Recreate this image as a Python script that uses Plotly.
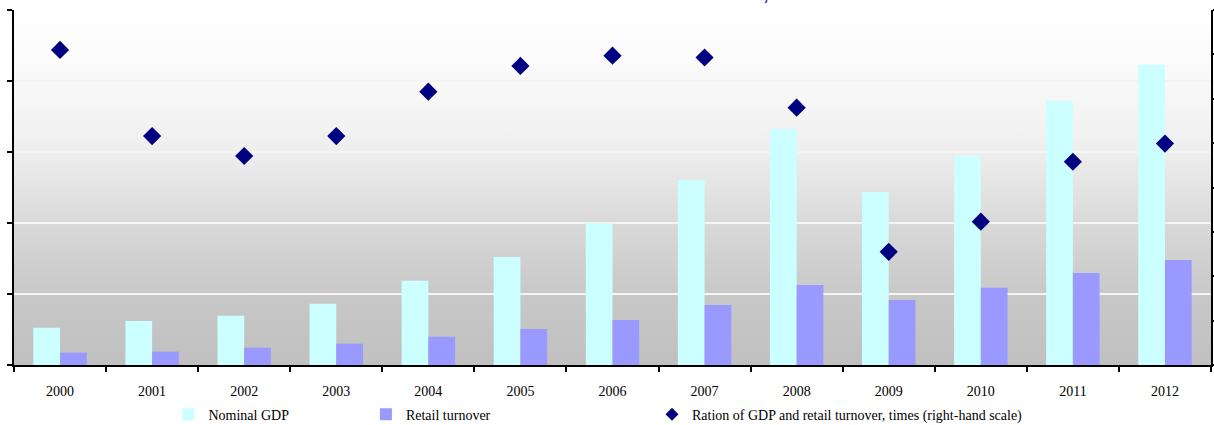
import base64
import plotly.graph_objects as go

years = ["2000", "2001", "2002", "2003", "2004", "2005", "2006",
         "2007", "2008", "2009", "2010", "2011", "2012"]
nominal_gdp = [263, 310, 347, 432, 594, 761, 998, 1303, 1662, 1218, 1472, 1861, 2115]
retail_turnover = [87, 94, 122, 150, 199, 254, 317, 423, 563, 458, 544, 648, 739]
ratio = [3.110, 2.916, 2.871, 2.916, 3.016, 3.074, 3.097, 3.093, 2.980,
         2.655, 2.723, 2.858, 2.899]

serif = "Liberation Serif, Times New Roman, serif"
ratio_name = "Ration of GDP and retail turnover, times (right-hand scale)"

fig = go.Figure()
fig.add_trace(go.Bar(x=years, y=nominal_gdp, name="Nominal GDP",
                     marker=dict(color="#ccffff", line=dict(width=0)),
                     legend="legend"))
fig.add_trace(go.Bar(x=years, y=retail_turnover, name="Retail turnover",
                     marker=dict(color="#9999ff", line=dict(width=0)),
                     legend="legend2"))
fig.add_trace(go.Scatter(x=years, y=ratio, yaxis="y2", mode="markers",
                         name=ratio_name, showlegend=False,
                         marker=dict(symbol="diamond", size=14, color="#000080")))
# legend-only entry with a smaller diamond icon
fig.add_trace(go.Scatter(x=[None], y=[None], yaxis="y2", mode="markers",
                         name=ratio_name, legend="legend3",
                         marker=dict(symbol="diamond", size=10, color="#000080")))

svg = ('<svg xmlns="http://www.w3.org/2000/svg" width="100" height="100" '
       'viewBox="0 0 100 100" preserveAspectRatio="none">'
       '<defs><linearGradient id="g" x1="0" y1="0" x2="0" y2="1">'
       '<stop offset="0" stop-color="#ffffff"/>'
       '<stop offset="0.2" stop-color="#f9f9f9"/>'
       '<stop offset="0.4" stop-color="#eeeeee"/>'
       '<stop offset="0.6" stop-color="#d9d9d9"/>'
       '<stop offset="0.8" stop-color="#c8c8c8"/>'
       '<stop offset="1" stop-color="#c0c0c0"/>'
       '</linearGradient></defs>'
       '<rect x="0" y="0" width="100" height="100" fill="url(#g)"/></svg>')
src = "data:image/svg+xml;base64," + base64.b64encode(svg.encode()).decode()

legend_common = dict(orientation="h", yanchor="middle", y=-0.14,
                     xanchor="left", bgcolor="rgba(0,0,0,0)",
                     font=dict(family=serif, size=14, color="black"))

fig.update_layout(
    width=1214, height=425,
    margin=dict(l=14, r=3, t=10, b=60, autoexpand=False),
    paper_bgcolor="white",
    plot_bgcolor="#c0c0c0",
    barmode="group", bargap=0.42, bargroupgap=0,
    images=[dict(source=src, xref="paper", yref="paper", x=0, y=1,
                 sizex=1, sizey=1, xanchor="left", yanchor="top",
                 sizing="stretch", layer="below")],
    xaxis=dict(type="category", range=[-0.5, 12.5], showline=True,
               linecolor="black", linewidth=2,
               ticks="outside", tickson="boundaries", ticklen=5,
               tickcolor="black", tickwidth=1.5, showgrid=False,
               ticklabelstandoff=12,
               tickfont=dict(family=serif, size=14, color="black")),
    yaxis=dict(range=[0, 2500], dtick=500, showticklabels=False,
               showline=True, linecolor="black", linewidth=2,
               ticks="outside", ticklen=5, tickcolor="black", tickwidth=1.5,
               showgrid=True, gridcolor="#f4f4f4", gridwidth=1.5,
               zeroline=False),
    yaxis2=dict(range=[2.4, 3.2], dtick=0.1, overlaying="y", side="right",
                showticklabels=False, showline=True, linecolor="black",
                linewidth=2, ticks="outside", ticklen=5, tickcolor="black",
                tickwidth=1.5, showgrid=False, zeroline=False),
    legend=dict(x=0.129, **legend_common),
    legend2=dict(x=0.294, **legend_common),
    legend3=dict(x=0.533, **legend_common),
    showlegend=True,
)

fig.add_annotation(
    text="<b>Nominal GDP and retail turnover in Russia in 2000-2012, billions of US dollars</b>",
    xref="paper", yref="paper", x=0.5, y=1.0, yshift=4,
    xanchor="center", yanchor="bottom", showarrow=False,
    font=dict(family="Liberation Sans, Arial, sans-serif", size=19,
              color="#3333aa"))

fig.write_html("out.html")
